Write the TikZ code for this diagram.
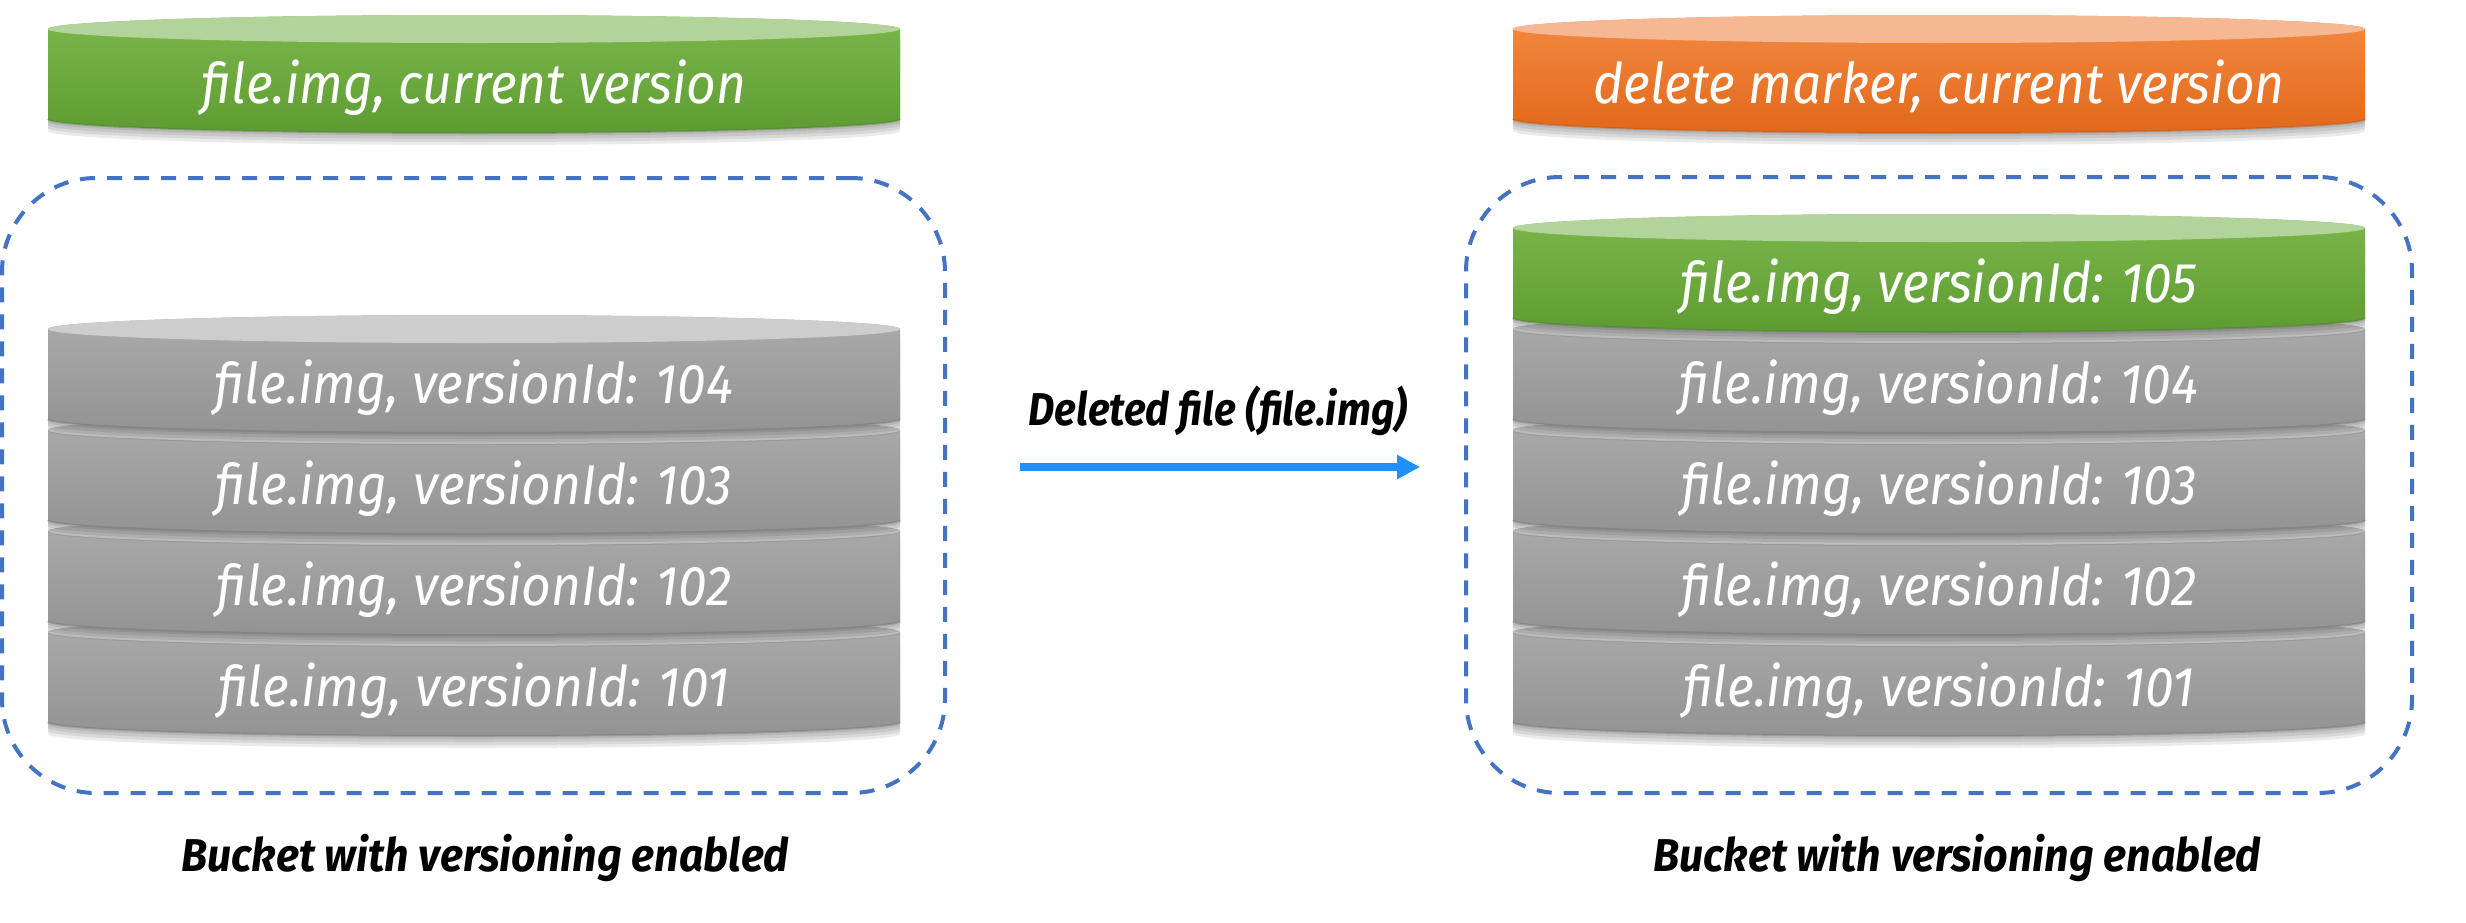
\documentclass[tikz,border=0pt]{standalone}
\usepackage{fontspec}
\setmainfont{Fira Sans}
\newfontfamily\disktxt[FakeStretch=0.92]{Fira Sans}
\newfontfamily\lbltxt[FakeStretch=0.935]{Fira Sans}
\newfontfamily\deltxt[FakeStretch=0.885]{Fira Sans}
\usetikzlibrary{arrows.meta}
\definecolor{greenTop}{HTML}{7BB74B}
\definecolor{greenBot}{HTML}{5E9C33}
\definecolor{greenLid}{HTML}{B2D49B}
\definecolor{orangeTop}{HTML}{F38A43}
\definecolor{orangeBot}{HTML}{E2681A}
\definecolor{orangeLid}{HTML}{F5B892}
\definecolor{grayTop}{HTML}{ABABAB}
\definecolor{grayBot}{HTML}{939393}
\definecolor{grayLid}{HTML}{CDCDCD}
\definecolor{bucketBlue}{HTML}{4472C4}
\definecolor{arrowBlue}{HTML}{1E90FF}
\tikzset{
  disklabel/.style={text=white, inner sep=0pt, font=\disktxt\itshape\fontsize{28}{32}\selectfont},
  caplabel/.style={text=black, inner sep=0pt, font=\lbltxt\bfseries\itshape\fontsize{23}{27}\selectfont},
  dellabel/.style={text=black, inner sep=0pt, font=\deltxt\bfseries\itshape\fontsize{23}{27}\selectfont},
  bucketbox/.style={draw=bucketBlue, line width=2pt, dash pattern=on 7.5pt off 6pt, rounded corners=47pt, inner sep=0pt},
  delarrow/.style={draw=arrowBlue, line width=4pt, -{Triangle[length=11.5pt,width=11.5pt]}}
}
% #1 cx, #2 top-ellipse centre y, #3 top colour, #4 bottom colour, #5 lid colour, #6 node name, #7 text
\newcommand\drawdisk[7]{%
  \foreach \s in {3,6,9,12}{%
    \fill[black,opacity=0.08] ({#1-426},{#2+\s}) -- ({#1-426},{#2+90+\s})
      arc[start angle=180,end angle=360,x radius=213pt,y radius=7pt]
      -- ({#1+426},{#2+\s}) -- cycle;
  }
  \shade[top color=#3,bottom color=#4] ({#1-426},#2) -- ({#1-426},{#2+90})
    arc[start angle=180,end angle=360,x radius=213pt,y radius=7pt]
    -- ({#1+426},#2)
    arc[start angle=0,end angle=180,x radius=213pt,y radius=7pt] -- cycle;
  \draw[#4!75!black,opacity=0.35,line width=1pt] ({#1-426},{#2+90})
    arc[start angle=180,end angle=360,x radius=213pt,y radius=7pt];
  \fill[#5] (#1,#2) ellipse[x radius=213pt,y radius=7pt];
  \node[disklabel,anchor=base] (#6) at (#1,{#2+74}) {#7};
}
\begin{document}
\begin{tikzpicture}[x=0.5pt,y=-0.5pt]
\useasboundingbox (0,0) rectangle (2466,922);
\fill[white] (0,0) rectangle (2466,922);

% left side
\drawdisk{474}{29}{greenTop}{greenBot}{greenLid}{curL}{file.img, current version}
\node[bucketbox, minimum width=471.5pt, minimum height=307.5pt] (bucketL) at (473.5,485.5) {};
\drawdisk{474}{632}{grayTop}{grayBot}{grayLid}{l101}{file.img, versionId: 101}
\drawdisk{474}{531}{grayTop}{grayBot}{grayLid}{l102}{file.img, versionId: 102}
\drawdisk{474}{430}{grayTop}{grayBot}{grayLid}{l103}{file.img, versionId: 103}
\drawdisk{474}{329}{grayTop}{grayBot}{grayLid}{l104}{file.img, versionId: 104}
\node[caplabel,anchor=base] (capL) at (485,871) {Bucket with versioning enabled};

% arrow
\node[dellabel,anchor=base] (delLbl) at (1218,425) {Deleted file (file.img)};
\coordinate (arrS) at (1020,467);
\coordinate (arrE) at (1420,467);
\draw[delarrow] (arrS) -- (arrE);

% right side
\drawdisk{1939}{29}{orangeTop}{orangeBot}{orangeLid}{curR}{delete marker, current version}
\node[bucketbox, minimum width=473pt, minimum height=308pt] (bucketR) at (1939,485) {};
\drawdisk{1939}{632}{grayTop}{grayBot}{grayLid}{r101}{file.img, versionId: 101}
\drawdisk{1939}{531}{grayTop}{grayBot}{grayLid}{r102}{file.img, versionId: 102}
\drawdisk{1939}{430}{grayTop}{grayBot}{grayLid}{r103}{file.img, versionId: 103}
\drawdisk{1939}{329}{grayTop}{grayBot}{grayLid}{r104}{file.img, versionId: 104}
\drawdisk{1939}{228}{greenTop}{greenBot}{greenLid}{r105}{file.img, versionId: 105}
\node[caplabel,anchor=base] (capR) at (1957,871) {Bucket with versioning enabled};
\end{tikzpicture}
\end{document}
